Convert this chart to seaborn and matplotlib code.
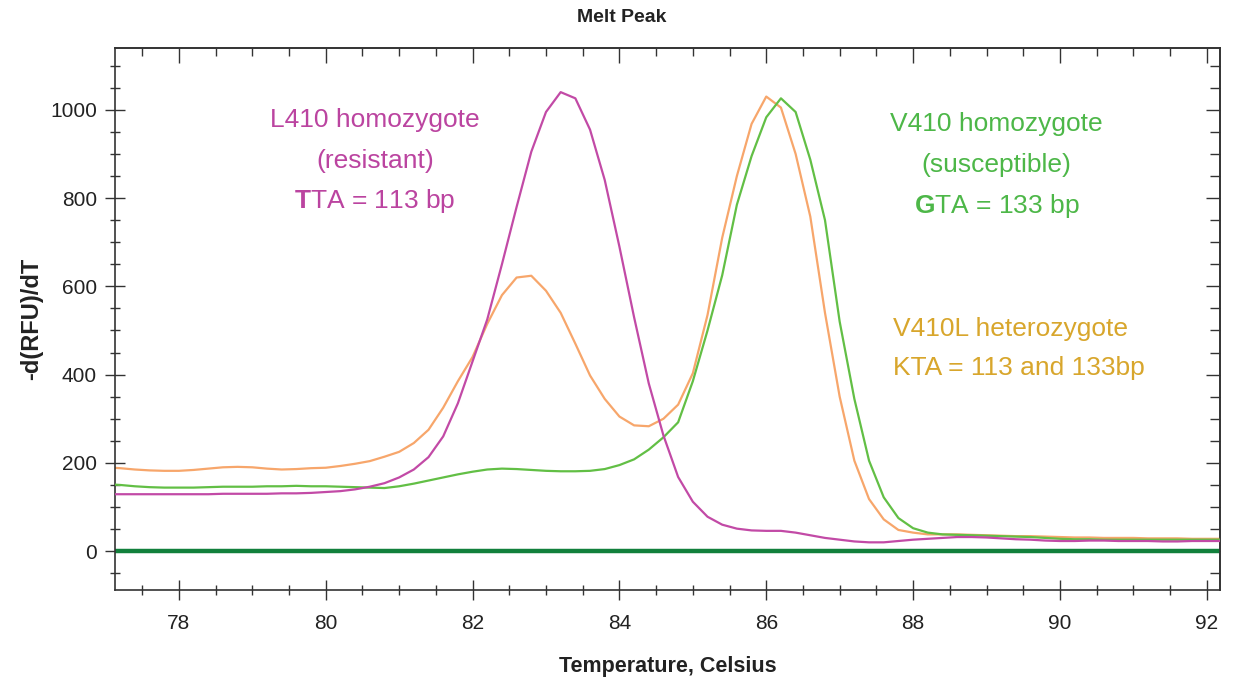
import numpy as np
import pandas as pd
import matplotlib
matplotlib.use("Agg")
import matplotlib.pyplot as plt
import seaborn as sns
from matplotlib.ticker import MultipleLocator

# ---- data ----
temperature = [77.0, 77.2, 77.4, 77.6, 77.8, 78.0, 78.2, 78.4, 78.6, 78.8,
               79.0, 79.2, 79.4, 79.6, 79.8, 80.0, 80.2, 80.4, 80.6, 80.8,
               81.0, 81.2, 81.4, 81.6, 81.8, 82.0, 82.2, 82.4, 82.6, 82.8,
               83.0, 83.2, 83.4, 83.6, 83.8, 84.0, 84.2, 84.4, 84.6, 84.8,
               85.0, 85.2, 85.4, 85.6, 85.8, 86.0, 86.2, 86.4, 86.6, 86.8,
               87.0, 87.2, 87.4, 87.6, 87.8, 88.0, 88.2, 88.4, 88.6, 88.8,
               89.0, 89.2, 89.4, 89.6, 89.8, 90.0, 90.2, 90.4, 90.6, 90.8,
               91.0, 91.2, 91.4, 91.6, 91.8, 92.0, 92.2]

l410_resistant = [129, 129, 129, 129, 129, 129, 129, 129, 130, 130,
                  130, 130, 131, 131, 132, 134, 136, 140, 146, 154,
                  167, 185, 213, 260, 335, 430, 525, 650, 780, 905,
                  995, 1040, 1026, 955, 841, 690, 530, 380, 262, 168,
                  112, 78, 60, 51, 47, 46, 46, 42, 36, 30,
                  26, 22, 20, 20, 23, 26, 28, 30, 32, 32,
                  31, 29, 27, 26, 24, 23, 23, 24, 24, 23,
                  23, 23, 22, 22, 23, 23, 23]

v410_susceptible = [152, 150, 147, 145, 144, 144, 144, 145, 146, 146,
                    146, 147, 147, 148, 147, 147, 146, 145, 144, 143,
                    147, 153, 160, 167, 174, 180, 185, 187, 186, 184,
                    182, 181, 181, 182, 186, 195, 208, 230, 258, 292,
                    385, 500, 625, 785, 895, 983, 1026, 995, 887, 750,
                    520, 345, 205, 122, 75, 52, 42, 38, 37, 36,
                    35, 34, 33, 32, 30, 28, 27, 27, 26, 26,
                    26, 26, 26, 26, 26, 26, 26]

v410l_heterozygote = [190, 188, 185, 183, 182, 182, 184, 187, 190, 191,
                      190, 187, 185, 186, 188, 189, 193, 198, 204, 214,
                      225, 245, 275, 325, 385, 440, 515, 580, 620, 624,
                      590, 540, 470, 398, 345, 305, 285, 283, 300, 332,
                      403, 535, 710, 850, 968, 1030, 1005, 900, 758, 540,
                      350, 205, 118, 72, 48, 42, 38, 38, 38, 37,
                      36, 35, 34, 34, 33, 32, 31, 31, 30, 30,
                      30, 29, 29, 29, 28, 28, 28]

x_major_ticks = [78, 80, 82, 84, 86, 88, 90, 92]
y_major_ticks = [0, 200, 400, 600, 800, 1000]

# ---- style ----
sns.set_style("ticks")
plt.rcParams["font.family"] = ["Liberation Sans", "DejaVu Sans"]
plt.rcParams["mathtext.fontset"] = "custom"
plt.rcParams["mathtext.rm"] = "Liberation Sans"
plt.rcParams["mathtext.bf"] = "Liberation Sans:bold"

C_MAG_LINE = "#c24aa6"
C_MAG_TXT = "#bb44a0"
C_GRN_LINE = "#62bf45"
C_GRN_TXT = "#4db748"
C_ORG_LINE = "#f7a66b"
C_GOLD_TXT = "#d8a62c"
C_ZERO = "#12803c"
C_AX = "#333333"

df = pd.DataFrame({
    "temperature": temperature,
    "L410": l410_resistant,
    "V410": v410_susceptible,
    "V410L": v410l_heterozygote,
})

fig = plt.figure(figsize=(12.33, 6.83), dpi=100)
ax = fig.add_axes([115 / 1233, 1 - 590 / 683, (1220 - 115) / 1233, (590 - 48) / 683])

ax.axhline(0, color=C_ZERO, lw=3.2, zorder=1)
sns.lineplot(data=df, x="temperature", y="V410L", color=C_ORG_LINE, lw=1.6, ax=ax, zorder=2)
sns.lineplot(data=df, x="temperature", y="V410", color=C_GRN_LINE, lw=1.6, ax=ax, zorder=3)
sns.lineplot(data=df, x="temperature", y="L410", color=C_MAG_LINE, lw=1.6, ax=ax, zorder=4)

ax.set_xlim(77.13, 92.18)
ax.set_ylim(-88, 1140)

ax.set_xticks(x_major_ticks)
ax.set_yticks(y_major_ticks)
ax.xaxis.set_minor_locator(MultipleLocator(0.5))
ax.yaxis.set_minor_locator(MultipleLocator(50))

ax.tick_params(axis="both", which="major", direction="inout", length=14, width=1.0,
               color=C_AX, labelsize=15, labelcolor="#222222")
ax.tick_params(axis="both", which="minor", direction="inout", length=7, width=1.0, color=C_AX)
ax.tick_params(axis="x", which="major", pad=10)
ax.tick_params(axis="y", which="major", pad=6)
ax.tick_params(top=False, right=False, which="both")

# inward ticks on the top and right frame
secx = ax.secondary_xaxis("top")
secx.set_xticks(x_major_ticks)
secx.xaxis.set_minor_locator(MultipleLocator(0.5))
secx.tick_params(which="major", direction="in", length=11, width=1.0, color=C_AX, labeltop=False)
secx.tick_params(which="minor", direction="in", length=6, width=1.0, color=C_AX)
secx.spines["top"].set_color(C_AX)
secx.spines["top"].set_linewidth(1.2)

secy = ax.secondary_yaxis("right")
secy.set_yticks(y_major_ticks)
secy.yaxis.set_minor_locator(MultipleLocator(50))
secy.tick_params(which="major", direction="in", length=10, width=1.0, color=C_AX, labelright=False)
secy.tick_params(which="minor", direction="in", length=7, width=1.0, color=C_AX)
secy.spines["right"].set_color(C_AX)
secy.spines["right"].set_linewidth(1.2)

for s in ax.spines.values():
    s.set_color(C_AX)
    s.set_linewidth(1.2)

fig.text(622 / 1233, 1 - 18 / 683, "Melt Peak", fontsize=14, fontweight="bold",
         color="#222222", ha="center", va="center")
ax.set_xlabel("Temperature, Celsius", fontsize=15.5, fontweight="bold", color="#222222", labelpad=17)
ax.set_ylabel("-d(RFU)/dT", fontsize=17, fontweight="bold", color="#222222", labelpad=5)

fs = 19
ax.text(80.67, 977, "L410 homozygote", color=C_MAG_TXT, fontsize=fs, ha="center", va="center")
ax.text(80.67, 884, "(resistant)", color=C_MAG_TXT, fontsize=fs, ha="center", va="center")
ax.text(80.67, 793, r"$\mathbf{T}$TA = 113 bp", color=C_MAG_TXT, fontsize=fs, ha="center", va="center")

ax.text(89.14, 968, "V410 homozygote", color=C_GRN_TXT, fontsize=fs, ha="center", va="center")
ax.text(89.14, 876, "(susceptible)", color=C_GRN_TXT, fontsize=fs, ha="center", va="center")
ax.text(89.14, 783, r"$\mathbf{G}$TA = 133 bp", color=C_GRN_TXT, fontsize=fs, ha="center", va="center")

ax.text(87.73, 503, "V410L heterozygote", color=C_GOLD_TXT, fontsize=fs, ha="left", va="center")
ax.text(87.73, 414, "KTA = 113 and 133bp", color=C_GOLD_TXT, fontsize=fs, ha="left", va="center")

fig.savefig("out.png", dpi=100)
